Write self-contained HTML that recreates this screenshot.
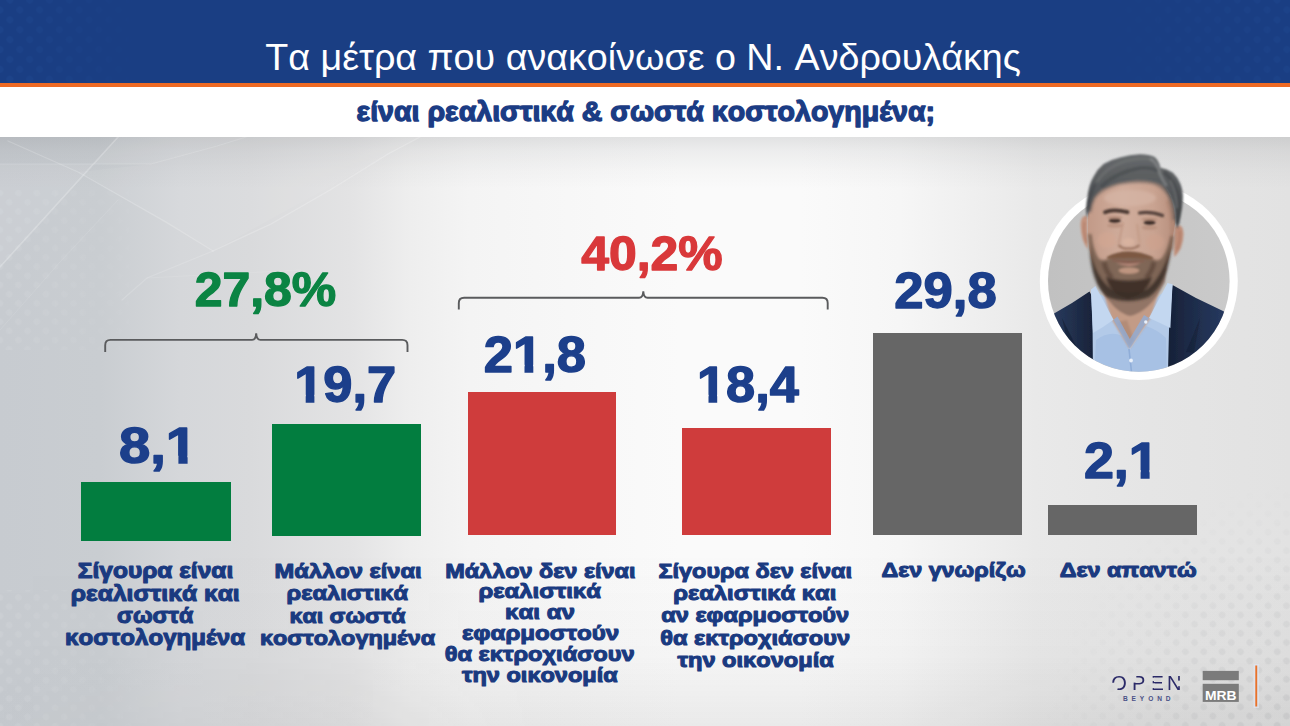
<!DOCTYPE html>
<html lang="el">
<head>
<meta charset="utf-8">
<title>Τα μέτρα που ανακοίνωσε ο Ν. Ανδρουλάκης</title>
<style>
  html, body { margin: 0; padding: 0; background: #e9e9e9; }
  body { width: 1290px; height: 726px; overflow: hidden; position: relative;
         font-family: "Liberation Sans", sans-serif; }
  #stage { position: absolute; left: 0; top: 0; width: 1290px; height: 726px; overflow: hidden;
    background:
      linear-gradient(to bottom, rgba(105,108,112,0.17) 0px, rgba(105,108,112,0.09) 14px, rgba(105,108,112,0.03) 34px, rgba(105,108,112,0) 52px) 0 137px / 100% 60px no-repeat,
      linear-gradient(to right, #c7cbd0 0px, #c9cdd1 100px, #d5d7da 180px, #d9dadc 250px, #e3e3e4 350px, #eeeeee 410px, #f1f1f1 440px, #f4f4f4 470px, #f8f8f8 600px, #fafafa 680px, #fafafa 800px, #f6f6f6 900px, #e9e9e9 1035px, #e5e5e5 1150px, #e2e2e2 1290px);
  }
  #shade { position: absolute; left: 0; top: 137px; width: 1290px; height: 589px;
    background: linear-gradient(to bottom, rgba(0,0,0,0) 0%, rgba(0,0,0,0) 70%, rgba(40,40,40,0.025) 88%, rgba(40,40,40,0.075) 100%);
    -webkit-mask-image: linear-gradient(to right, rgba(0,0,0,0.2) 0%, #000 42%, #000 100%);
            mask-image: linear-gradient(to right, rgba(0,0,0,0.2) 0%, #000 42%, #000 100%); }
  #hdr-blue { position: absolute; left: 0; top: 0; width: 1290px; height: 83px; background: #1a3e83; }
  #hdr-orange { position: absolute; left: 0; top: 83px; width: 1290px; height: 4px; background: #ee6a24; }
  #hdr-white { position: absolute; left: 0; top: 87px; width: 1290px; height: 50px; background: #ffffff; }
  .bar { position: absolute; }
  .g { background: #027d3f; }
  .r { background: #cf3c3c; }
  .k { background: #666666; }
  svg { position: absolute; left: 0; top: 0; font-kerning: none; }
  .num { font-family: "Liberation Sans", sans-serif; font-weight: 700; fill: #1c3f8b; stroke: #1c3f8b; stroke-width: 1.4px; stroke-linejoin: round; }
  .lab { font-family: "Liberation Sans", sans-serif; font-weight: 700; fill: #1a3a80; stroke: #1a3a80; stroke-width: 1.1px; stroke-linejoin: round; }
</style>
</head>
<body>
<div id="stage">
  <div id="shade"></div>
  <div id="hdr-blue"></div>
  <div id="hdr-orange"></div>
  <div id="hdr-white"></div>

  <div class="bar g" style="left:81px;  top:482px; width:149.5px; height:59px;"></div>
  <div class="bar g" style="left:272.4px; top:423.5px; width:148.6px; height:112.5px;"></div>
  <div class="bar r" style="left:467.5px; top:392px; width:148.6px; height:143px;"></div>
  <div class="bar r" style="left:682.4px; top:427.7px; width:148.3px; height:107.3px;"></div>
  <div class="bar k" style="left:873.3px; top:332.6px; width:148.7px; height:202.6px;"></div>
  <div class="bar k" style="left:1048.2px; top:505.3px; width:148.6px; height:30px;"></div>

  <svg width="1290" height="726" viewBox="0 0 1290 726">


    <!-- halftone textures -->
    <defs>
      <pattern id="dotsG" width="13" height="13" patternUnits="userSpaceOnUse" patternTransform="rotate(45 1290 726)"><circle cx="6.5" cy="6.5" r="3.3" fill="#8a8d92"/></pattern>
      <pattern id="dotsW" width="13" height="13" patternUnits="userSpaceOnUse" patternTransform="rotate(45)"><circle cx="6.5" cy="6.5" r="3.3" fill="#ffffff"/></pattern>
      <pattern id="dotsB" width="14" height="14" patternUnits="userSpaceOnUse" patternTransform="rotate(45)"><circle cx="7" cy="7" r="3.6" fill="#3f78c8"/></pattern>
      <radialGradient id="rgBR" gradientUnits="userSpaceOnUse" cx="1310" cy="750" r="270"><stop offset="0" stop-color="#fff" stop-opacity="1"/><stop offset="0.55" stop-color="#fff" stop-opacity="0.55"/><stop offset="1" stop-color="#fff" stop-opacity="0"/></radialGradient>
      <mask id="mkBR" maskUnits="userSpaceOnUse" x="980" y="430" width="310" height="296"><rect x="980" y="430" width="310" height="296" fill="url(#rgBR)"/></mask>
      <linearGradient id="lgL" gradientUnits="userSpaceOnUse" x1="0" y1="0" x2="150" y2="0"><stop offset="0" stop-color="#fff" stop-opacity="1"/><stop offset="1" stop-color="#fff" stop-opacity="0"/></linearGradient>
      <mask id="mkL" maskUnits="userSpaceOnUse" x="0" y="0" width="150" height="726"><rect x="0" y="0" width="150" height="726" fill="url(#lgL)"/></mask>
      <linearGradient id="lgR" gradientUnits="userSpaceOnUse" x1="1290" y1="0" x2="1080" y2="0"><stop offset="0" stop-color="#fff" stop-opacity="1"/><stop offset="1" stop-color="#fff" stop-opacity="0"/></linearGradient>
      <mask id="mkR" maskUnits="userSpaceOnUse" x="1080" y="0" width="210" height="83"><rect x="1080" y="0" width="210" height="83" fill="url(#lgR)"/></mask>
    </defs>
    <rect x="980" y="430" width="310" height="296" fill="url(#dotsG)" mask="url(#mkBR)" opacity="0.17"/>
    <rect x="0" y="190" width="150" height="160" fill="url(#dotsW)" mask="url(#mkL)" opacity="0.07"/>
    <rect x="0" y="590" width="150" height="136" fill="url(#dotsW)" mask="url(#mkL)" opacity="0.08"/>
    <rect x="0" y="0" width="150" height="83" fill="url(#dotsB)" mask="url(#mkL)" opacity="0.09"/>
    <rect x="1080" y="0" width="210" height="83" fill="url(#dotsB)" mask="url(#mkR)" opacity="0.07"/>

    <!-- background light streaks -->
    <defs><filter id="bgblur" x="-5%" y="-5%" width="110%" height="110%"><feGaussianBlur stdDeviation="0.7"/></filter></defs>
    <g fill="none" stroke="#ffffff" stroke-linecap="round" opacity="0.5" filter="url(#bgblur)">
      <path d="M0 267 L118 137" stroke-width="1.6" opacity="0.45"/>
      <path d="M0 164 L151 164 L217 146 L246 137" stroke-width="1.2" opacity="0.30"/>
      <path d="M8 141 L78 172 L166 222 L213 251" stroke-width="1.3" opacity="0.35"/>
      <path d="M213 251 L271 224 L330 190 L388 154 L420 137" stroke-width="1.3" opacity="0.40"/>
      <path d="M122 300 L147 278 L213 251" stroke-width="1.2" opacity="0.28"/>
      <path d="M147 278 L300 270" stroke-width="1" opacity="0.18"/>
      <path d="M0 330 L60 262 L118 200" stroke-width="1" opacity="0.18"/>
    </g>
    <g fill="#ffffff">
      <path d="M0 164 L151 164 L246 137 L118 137 L0 267 Z" opacity="0.07"/>
      <path d="M213 251 L420 137 L246 137 L151 164 L78 172 Z" opacity="0.06"/>
    </g>

    <!-- header -->
    <text x="265.3" y="70.2" textLength="755.7" lengthAdjust="spacingAndGlyphs" font-size="36.5" font-family="Liberation Sans, sans-serif" fill="#ffffff">Τα μέτρα που ανακοίνωσε ο Ν. Ανδρουλάκης</text>
    <text x="356.6" y="121.0" textLength="578.5" lengthAdjust="spacingAndGlyphs" font-size="27.5" font-family="Liberation Sans, sans-serif" font-weight="700" fill="#1b3c84" stroke="#1b3c84" stroke-width="1.3" stroke-linejoin="round">είναι ρεαλιστικά &amp; σωστά κοστολογημένα;</text>

    <!-- brackets -->
    <g fill="none" stroke="#5a5b5d" stroke-width="1.9" stroke-linecap="butt">
      <path d="M105.2 352 V345.2 Q105.2 339.9 110.5 339.9 H252 Q255.8 339.9 256.2 333.2 Q256.6 339.9 260.4 339.9 H402.2 Q407.5 339.9 407.5 345.2 V352"/>
      <path d="M458.8 309.6 V303.1 Q458.8 297.8 464.1 297.8 H639.1 Q642.9 297.8 643.3 291.2 Q643.7 297.8 647.5 297.8 H822.4 Q827.7 297.8 827.7 303.1 V309.6"/>
    </g>

    <!-- totals -->
    <text x="194.7" y="305.5" textLength="141.5" lengthAdjust="spacingAndGlyphs" font-size="47.5" font-family="Liberation Sans, sans-serif" font-weight="700" fill="#0b8443" stroke="#0b8443" stroke-width="1.3" stroke-linejoin="round">27,8%</text>
    <text x="581.2" y="270.2" textLength="141.4" lengthAdjust="spacingAndGlyphs" font-size="47.5" font-family="Liberation Sans, sans-serif" font-weight="700" fill="#d9383a" stroke="#d9383a" stroke-width="1.3" stroke-linejoin="round">40,2%</text>

    <!-- bar values -->
    <defs>
    <mask id="m0" maskUnits="userSpaceOnUse" x="100" y="403" width="108" height="90"><rect x="100" y="403" width="108" height="90" fill="#fff"/><rect x="167.5" y="455.7" width="10.9" height="12" fill="#000"/><rect x="187.6" y="455.7" width="10.1" height="12" fill="#000"/></mask>
    <mask id="m1" maskUnits="userSpaceOnUse" x="277" y="342" width="138" height="90"><rect x="277" y="342" width="138" height="90" fill="#fff"/><rect x="295.5" y="394.8" width="10.2" height="12" fill="#000"/><rect x="314.4" y="394.8" width="9.5" height="12" fill="#000"/></mask>
    <mask id="m2" maskUnits="userSpaceOnUse" x="465" y="312" width="140" height="90"><rect x="465" y="312" width="140" height="90" fill="#fff"/><rect x="514.3" y="364.8" width="10.2" height="12" fill="#000"/><rect x="533.3" y="364.8" width="9.5" height="12" fill="#000"/></mask>
    <mask id="m3" maskUnits="userSpaceOnUse" x="680" y="342" width="139" height="90"><rect x="680" y="342" width="139" height="90" fill="#fff"/><rect x="698.3" y="394.8" width="10.2" height="12" fill="#000"/><rect x="717.2" y="394.8" width="9.5" height="12" fill="#000"/></mask>
    <mask id="m5" maskUnits="userSpaceOnUse" x="1065" y="418" width="104" height="90"><rect x="1065" y="418" width="104" height="90" fill="#fff"/><rect x="1130.2" y="470.0" width="10.4" height="12" fill="#000"/><rect x="1149.6" y="470.0" width="9.7" height="12" fill="#000"/></mask>
    </defs>
    <text x="118.9" y="463.3" textLength="78.3" lengthAdjust="spacingAndGlyphs" class="num" font-size="50" mask="url(#m0)">8,1</text>
    <text x="294.2" y="402.4" textLength="102.1" lengthAdjust="spacingAndGlyphs" class="num" font-size="50" mask="url(#m1)">19,7</text>
    <text x="483.8" y="372.4" textLength="102.3" lengthAdjust="spacingAndGlyphs" class="num" font-size="50" mask="url(#m2)">21,8</text>
    <text x="697.0" y="402.4" textLength="101.8" lengthAdjust="spacingAndGlyphs" class="num" font-size="50" mask="url(#m3)">18,4</text>
    <text x="894.3" y="308.2" textLength="102.4" lengthAdjust="spacingAndGlyphs" class="num" font-size="50" >29,8</text>
    <text x="1083.9" y="477.6" textLength="74.9" lengthAdjust="spacingAndGlyphs" class="num" font-size="50" mask="url(#m5)">2,1</text>

    <!-- portrait -->
    <defs>
      <clipPath id="pclip"><path d="M1040 120 H1240 V281 H1229.6 A90.8 90.8 0 0 1 1048 281 H1040 Z"/></clipPath>
      <filter id="b05" x="-20%" y="-20%" width="140%" height="140%"><feGaussianBlur stdDeviation="0.6"/></filter>
      <filter id="b1" x="-20%" y="-20%" width="140%" height="140%"><feGaussianBlur stdDeviation="1"/></filter>
      <filter id="b2" x="-20%" y="-20%" width="140%" height="140%"><feGaussianBlur stdDeviation="1.8"/></filter>
      <filter id="b3" x="-30%" y="-30%" width="160%" height="160%"><feGaussianBlur stdDeviation="3"/></filter>
      <linearGradient id="pbg" x1="0" y1="0" x2="1" y2="0"><stop offset="0" stop-color="#c1c1c1"/><stop offset="1" stop-color="#cacaca"/></linearGradient>
      <linearGradient id="skin" x1="0" y1="0" x2="1" y2="0"><stop offset="0" stop-color="#c29a88"/><stop offset="0.4" stop-color="#d0ad9c"/><stop offset="0.75" stop-color="#c9a391"/><stop offset="1" stop-color="#b78f7d"/></linearGradient>
      <linearGradient id="jackL" x1="0" y1="0" x2="1" y2="0"><stop offset="0" stop-color="#2c4068"/><stop offset="0.55" stop-color="#22314f"/><stop offset="1" stop-color="#182238"/></linearGradient>
      <linearGradient id="jackR" x1="0" y1="0" x2="1" y2="0"><stop offset="0" stop-color="#172137"/><stop offset="0.4" stop-color="#1f2e4d"/><stop offset="1" stop-color="#2a3f69"/></linearGradient>
      <linearGradient id="hair" x1="0" y1="0" x2="0" y2="1"><stop offset="0" stop-color="#66696b"/><stop offset="0.5" stop-color="#54575a"/><stop offset="1" stop-color="#45484b"/></linearGradient>
    </defs>
    <circle cx="1138.8" cy="281" r="99" fill="#ffffff"/>
    <circle cx="1138.8" cy="281" r="90.8" fill="url(#pbg)"/>
    <g clip-path="url(#pclip)">
      <!-- jacket -->
      <g filter="url(#b05)">
        <path d="M1040 324 L1054 313.5 L1072 303 L1089.5 291.5 L1094 300 L1093.2 380 H1040 Z" fill="url(#jackL)"/>
        <path d="M1240 320 L1222 310.5 L1196 298 L1172.5 285 L1168 300 L1167.6 380 H1240 Z" fill="url(#jackR)"/>
        <path d="M1062 318 L1078 350 L1070 352 Z" fill="#131c30" opacity="0.55"/>
        <path d="M1200 318 L1186 352 L1194 353 Z" fill="#131c30" opacity="0.45"/>
      </g>
      <!-- shirt -->
      <g filter="url(#b05)">
        <path d="M1091 290 L1112 300 L1154 300 L1172.5 284.5 L1169 330 L1167.8 380 H1093 L1092.6 330 Z" fill="#b3cae8"/>
        <path d="M1096 340 Q1110 330 1122 336 L1130 350 L1146 326 Q1158 330 1166 338 L1167 380 H1094 Z" fill="#a7c1e4"/>
        <path d="M1129 349 L1131.5 372" stroke="#8fadd8" stroke-width="1.6" fill="none"/>
      </g>
      <!-- neck -->
      <g filter="url(#b1)">
        <path d="M1096 268 L1111 318 L1129.5 348.5 L1150.5 318 L1167 268 Z" fill="#c39b86"/>
        <path d="M1098 282 Q1112 312 1130 316 Q1150 312 1165 282 L1166 268 H1098 Z" fill="#8a6f60" opacity="0.85"/>
        <path d="M1118 322 L1129.5 347 L1134 340 L1127 320 Z" fill="#a9826e" opacity="0.6"/>
      </g>
      <!-- collars -->
      <g filter="url(#b05)">
        <path d="M1091 289.5 L1095.5 286 L1113.5 319.8 L1103 327 L1093 333 Z" fill="#c3d7f0"/>
        <path d="M1172.5 284.3 L1167.5 283 L1149 318 L1159 322.5 L1170.4 328 Z" fill="#c3d7f0"/>
        <path d="M1113.5 319.8 L1129.5 348.5 L1149 318 L1144 315 L1129.8 339 L1117.5 316.5 Z" fill="#8eaedb" opacity="0.75"/>
        <circle cx="1145.8" cy="322" r="1.7" fill="#e8f0fa"/>
        <circle cx="1131" cy="360.5" r="1.9" fill="#e8f0fa"/>
      </g>
      <!-- ears -->
      <g filter="url(#b1)">
        <path d="M1087.5 216 Q1080.5 214 1080.6 226 Q1081.5 242 1087.8 249 Z" fill="#c4937e"/>
        <path d="M1174.6 227 Q1183 222 1183.5 234 Q1183 250 1174 257 Z" fill="#bf8d78"/>
        <path d="M1084.5 222 Q1083 232 1086.5 243" stroke="#a77560" stroke-width="1.4" fill="none" opacity="0.7"/>
        <path d="M1179.8 231 Q1180.5 241 1177 250" stroke="#a5735f" stroke-width="1.4" fill="none" opacity="0.7"/>
      </g>
      <!-- face -->
      <path filter="url(#b05)" d="M1088 214 Q1090 186 1112 181 Q1138 175 1160 182 Q1174 192 1175.4 222 L1173 236 Q1171.5 255 1163 274 Q1151 293 1128 298 Q1107 293 1095 271 Q1088.6 252 1088 236 Z" fill="url(#skin)"/>
      <g filter="url(#b2)">
        <ellipse cx="1130" cy="198" rx="26" ry="8" fill="#d6b5a5" opacity="0.7"/>
        <ellipse cx="1107" cy="240" rx="9" ry="8" fill="#d3a792" opacity="0.6"/>
        <ellipse cx="1155" cy="242" rx="9" ry="8" fill="#cfa28d" opacity="0.6"/>
        <path d="M1168 200 Q1176 222 1171 250" stroke="#a97f6b" stroke-width="5" fill="none" opacity="0.55"/>
      </g>
      <!-- beard -->
      <g filter="url(#b2)">
        <path d="M1088.2 234 L1091.5 234 Q1093 250 1099 259 Q1106 262 1110 257 Q1128 249 1151 257 Q1156 263 1162 258 Q1168 249 1170.5 236 L1173.4 236 Q1172 257 1163 275 Q1151 294 1128 299 Q1107 294 1095 272 Q1089 254 1088.2 234 Z" fill="#6a5446" opacity="0.78"/>
        <path d="M1089.5 246 Q1094 276 1112 290 Q1128 296 1146 290 Q1163 277 1171 246 Q1168 284 1149 297 Q1128 305 1107 297 Q1091 284 1089.5 246 Z" fill="#3e312a" opacity="0.95"/>
        <path d="M1106 277 Q1128 284 1152 277 Q1147 295 1128 298 Q1110 295 1106 277 Z" fill="#3a2d27" opacity="0.9"/>
        <path d="M1104 262 Q1106 272 1112 278 M1154 262 Q1152 272 1146 278" stroke="#5a4438" stroke-width="5" fill="none" opacity="0.7"/>
      </g>
      <ellipse filter="url(#b1)" cx="1129" cy="270.6" rx="10.5" ry="3.4" fill="#c49a84" opacity="0.9"/>
      <!-- mustache / lips -->
      <g filter="url(#b1)">
        <path d="M1107.5 258 Q1118 252.5 1128.3 252.6 Q1140 252.5 1152.5 258.5 Q1140 257 1128.5 257 Q1117 257 1107.5 258 Z" fill="#7d5942" stroke="#7d5942" stroke-width="2.2"/>
        <path d="M1112.5 260.3 Q1129 262.5 1144.6 260.8 Q1129 264.4 1112.5 260.3 Z" fill="#8a5a4c" stroke="#8a5a4c" stroke-width="0.8"/>
        <path d="M1116 263 Q1129 265 1141 263 Q1130 269 1116 263 Z" fill="#c48f80"/>
      </g>
      <!-- nose -->
      <g filter="url(#b1)">
        <path d="M1123 222 Q1120.5 236 1118.6 243.5" fill="none" stroke="#b88d78" stroke-width="2" opacity="0.55"/>
        <path d="M1137 224 Q1139 237 1139.6 243" fill="none" stroke="#b88d78" stroke-width="2" opacity="0.45"/>
        <path d="M1118.4 245 Q1123 249.5 1128.5 248.3 Q1134 249.5 1139.6 245" fill="none" stroke="#8f6653" stroke-width="2.2" opacity="0.8"/>
        <ellipse cx="1128.6" cy="242" rx="6" ry="4" fill="#dbb5a1" opacity="0.7"/>
      </g>
      <!-- brows / eyes -->
      <g filter="url(#b1)">
        <path d="M1105 212.2 Q1113 208.6 1127.5 212.2" fill="none" stroke="#483830" stroke-width="3.8" stroke-linecap="round"/>
        <path d="M1139.5 213 Q1150 211 1162.5 215.6" fill="none" stroke="#53413a" stroke-width="3.2" stroke-linecap="round"/>
        <ellipse cx="1114.8" cy="220.7" rx="6" ry="2.3" fill="#3a2c28"/>
        <ellipse cx="1149.6" cy="222.6" rx="6" ry="2.3" fill="#3a2c28"/>
        <ellipse cx="1114.8" cy="217.6" rx="8" ry="1.6" fill="#a8806d" opacity="0.65"/>
        <ellipse cx="1149.6" cy="219.4" rx="8" ry="1.6" fill="#a8806d" opacity="0.65"/>
        <ellipse cx="1114.8" cy="225.6" rx="8" ry="2.2" fill="#b58c79" opacity="0.7"/>
        <ellipse cx="1149.6" cy="227.6" rx="8" ry="2.2" fill="#b58c79" opacity="0.7"/>
      </g>
      <!-- hair -->
      <path filter="url(#b2)" d="M1089 212 Q1091 200 1095 195 Q1102 187 1118 182.5 Q1137 179 1152 181.5 Q1163 184 1169 194 Q1174 204 1175 220" fill="none" stroke="#5a5552" stroke-width="5" opacity="0.55"/>
      <g filter="url(#b1)">
        <path d="M1086.8 218 Q1085.6 206 1087.4 197.6 Q1088.5 185 1093.6 176.5 Q1097.5 169 1103.5 164.1 Q1111 159.5 1120.9 157.3 Q1130 154.6 1139.5 154.2 Q1148.5 154 1154.3 156.7 Q1159 160.5 1160.5 167.8 Q1167 168.6 1172.9 172.8 Q1177.6 177.2 1180.4 183.9 Q1183.4 191.5 1182.8 200.1 Q1182.4 209.5 1180.4 217.4 L1177.4 229 L1175.4 222.4 Q1175.6 214 1174.2 207.5 Q1172.5 200.5 1169.2 195.1 Q1166 189.2 1161.8 185.2 Q1157.3 182.6 1151.9 181.5 Q1144.7 180.2 1137 180.2 Q1127.4 180.8 1118.4 182.7 Q1109.3 185 1102.3 188.9 Q1096.8 192.6 1093.6 197.6 Q1090.6 204.5 1088.6 212.5 Z" fill="url(#hair)"/>
        <path d="M1097 182 Q1106 167 1126 161 Q1142 157 1154 160" fill="none" stroke="#77797b" stroke-width="3" opacity="0.45"/>
        <path d="M1101 187 Q1116 172 1140 168 Q1151 167 1158 171" fill="none" stroke="#3f4245" stroke-width="3.5" opacity="0.45"/>
        <path d="M1150 158.5 Q1158 163 1160 174 Q1163 181 1166.5 186" fill="none" stroke="#8f9193" stroke-width="3" opacity="0.55"/>
        <path d="M1164 172 Q1176 182 1178.5 200 Q1179.5 212 1177.6 224" fill="none" stroke="#3b3e41" stroke-width="4" opacity="0.45"/>
        <path d="M1170 180 Q1177 192 1177 208" fill="none" stroke="#808385" stroke-width="2" opacity="0.45"/>
        <path d="M1088.6 210 Q1089 196 1095 184" fill="none" stroke="#3e4144" stroke-width="3" opacity="0.45"/>
      </g>
    </g>
    </g>

    <!-- logos -->
    <mask id="openmask" maskUnits="userSpaceOnUse" x="1100" y="665" width="100" height="40">
      <rect x="1100" y="665" width="100" height="40" fill="#fff"/>
      <path d="M1119.3 682.6 L1106 682.9 L1106 694 L1116.2 694 Z" fill="#000"/>
      <rect x="1131.5" y="673" width="4.8" height="9.6" fill="#000"/>
      <rect x="1150" y="677.7" width="4.6" height="3.4" fill="#000"/>
      <rect x="1150" y="683.3" width="4.6" height="4.8" fill="#000"/>
      <rect x="1150" y="674" width="2.6" height="18" fill="#000"/>
      <rect x="1177.6" y="680.6" width="4" height="5.6" fill="#000"/>
    </mask>
    <text y="690" font-family="Liberation Sans, sans-serif" font-size="20" fill="#2b2a68" mask="url(#openmask)"><tspan x="1111.3">O</tspan><tspan x="1132.1">P</tspan><tspan x="1150.4">E</tspan><tspan x="1167.1">N</tspan></text>
    <text x="1122.9" y="700.9" textLength="47.7" lengthAdjust="spacing" font-family="Liberation Sans, sans-serif" font-weight="700" font-size="6.6" fill="#4a5187">BEYOND</text>
    <rect x="1202.7" y="670.9" width="36.1" height="9.3" fill="#7b7b7b"/>
    <rect x="1202.7" y="683.8" width="36.1" height="18.1" fill="#7b7b7b"/>
    <text x="1204.9" y="700.3" textLength="31.6" lengthAdjust="spacingAndGlyphs" font-family="Liberation Sans, sans-serif" font-weight="700" font-size="13.6" fill="#ffffff">MRB</text>
    <rect x="1253.5" y="664" width="5.4" height="44" fill="#dfe6f2" opacity="0.7"/>
    <rect x="1255.3" y="665.5" width="1.9" height="41" fill="#e8722a"/>

    <!-- labels -->
    <g class="lab">
      <text x="77.8" y="577.9" textLength="155.4" lengthAdjust="spacingAndGlyphs" font-size="21.4" >Σίγουρα είναι</text>
      <text x="70.8" y="600.5" textLength="168.9" lengthAdjust="spacingAndGlyphs" font-size="21.4" >ρεαλιστικά και</text>
      <text x="117.0" y="622.9" textLength="76.2" lengthAdjust="spacingAndGlyphs" font-size="21.4" >σωστά</text>
      <text x="65.0" y="644.9" textLength="180.0" lengthAdjust="spacingAndGlyphs" font-size="21.4" >κοστολογημένα</text>
      <text x="274.6" y="577.9" textLength="147.0" lengthAdjust="spacingAndGlyphs" font-size="21.0" >Μάλλον είναι</text>
      <text x="286.5" y="600.4" textLength="121.6" lengthAdjust="spacingAndGlyphs" font-size="21.0" >ρεαλιστικά</text>
      <text x="289.5" y="622.9" textLength="116.0" lengthAdjust="spacingAndGlyphs" font-size="21.0" >και σωστά</text>
      <text x="259.9" y="644.9" textLength="175.2" lengthAdjust="spacingAndGlyphs" font-size="21.0" >κοστολογημένα</text>
      <text x="445.2" y="577.5" textLength="190.3" lengthAdjust="spacingAndGlyphs" font-size="21.0" >Μάλλον δεν είναι</text>
      <text x="478.4" y="598.3" textLength="122.5" lengthAdjust="spacingAndGlyphs" font-size="21.0" >ρεαλιστικά</text>
      <text x="505.0" y="619.2" textLength="69.9" lengthAdjust="spacingAndGlyphs" font-size="21.0" >και αν</text>
      <text x="461.9" y="640.3" textLength="157.3" lengthAdjust="spacingAndGlyphs" font-size="21.0" >εφαρμοστούν</text>
      <text x="444.7" y="661" textLength="190.0" lengthAdjust="spacingAndGlyphs" font-size="21.0" >θα εκτροχιάσουν</text>
      <text x="462.0" y="681.6" textLength="155.7" lengthAdjust="spacingAndGlyphs" font-size="21.0" >την οικονομία</text>
      <text x="658.5" y="577.5" textLength="193.4" lengthAdjust="spacingAndGlyphs" font-size="21.0" >Σίγουρα δεν είναι</text>
      <text x="673.2" y="600.2" textLength="163.2" lengthAdjust="spacingAndGlyphs" font-size="21.0" >ρεαλιστικά και</text>
      <text x="661.3" y="622.3" textLength="187.8" lengthAdjust="spacingAndGlyphs" font-size="21.0" >αν εφαρμοστούν</text>
      <text x="660.2" y="645" textLength="189.9" lengthAdjust="spacingAndGlyphs" font-size="21.0" >θα εκτροχιάσουν</text>
      <text x="677.5" y="666.7" textLength="156.2" lengthAdjust="spacingAndGlyphs" font-size="21.0" >την οικονομία</text>
      <text x="881.4" y="577.1" textLength="144.2" lengthAdjust="spacingAndGlyphs" font-size="21.0" >Δεν γνωρίζω</text>
      <text x="1059.7" y="577.1" textLength="137.0" lengthAdjust="spacingAndGlyphs" font-size="21.0" >Δεν απαντώ</text>
    </g>
  </svg>
</div>
</body>
</html>
